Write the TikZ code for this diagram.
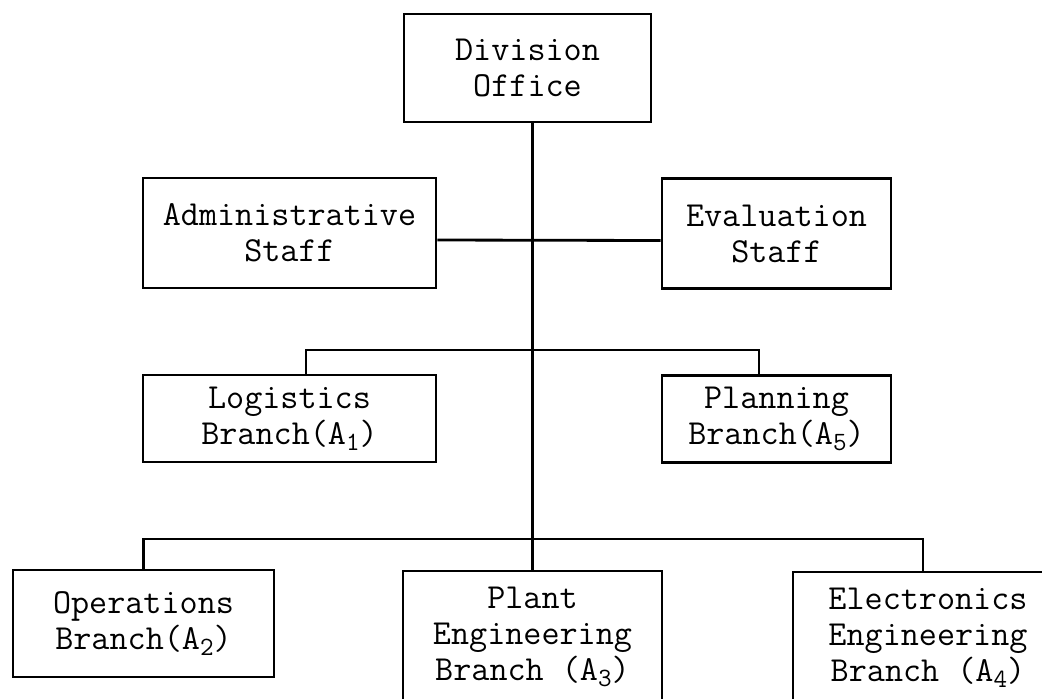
\documentclass[tikz,border=0pt]{standalone}
\usepackage{tikz}
\usetikzlibrary{arrows,shapes}
\newcommand{\subidx}[1]{\raisebox{-.4ex}{\fontsize{15}{15}\selectfont #1}}
\tikzstyle{box} = [rectangle, draw=black, line width=1.6pt, inner sep=0pt, align=center, font=\ttfamily\fontsize{20}{20.5}\selectfont]
\tikzstyle{office} = [box, minimum width=4.94cm, minimum height=2.16cm]
\tikzstyle{staff} = [box, minimum height=2.2cm]
\tikzstyle{branch} = [box, minimum height=1.74cm]
\tikzstyle{lowbranch} = [box, minimum height=2.64cm]
\tikzstyle{line} = [line width=1.6pt]

\begin{document}
\begin{tikzpicture}[x=0.02cm,y=-0.02cm]
\useasboundingbox (0,0) rectangle (1042,698);
\clip (0,0) rectangle (1042,698);

\node (div) [office] at (527.5,68) {Division\\Office};
\node (adm) [staff, minimum width=5.86cm] at (289.5,233) {Administrative\\Staff};
\node (eva) [staff, minimum width=4.58cm] at (776.5,233.5) {Evaluation\\Staff};
\node (log) [branch, minimum width=5.86cm] at (289.5,418.5) {Logistics\\Branch(A\subidx{1})};
\node (pla) [branch, minimum width=4.58cm] at (776.5,419) {Planning\\Branch(A\subidx{5})};
\node (ope) [box, minimum width=5.22cm, minimum height=2.14cm] at (143.5,623.5) {Operations\\Branch(A\subidx{2})};
\node (plt) [lowbranch, minimum width=5.18cm] at (532.5,637) {Plant\\Engineering\\Branch (A\subidx{3})};
\node (ele) [lowbranch, minimum width=5.4cm] at (928,638) {Electronics\\Engineering\\Branch (A\subidx{4})};

\coordinate (midbr) at (533,350);
\coordinate (lowbr) at (533,539);

% trunk and staff line
\draw [line] (plt.north) -- (plt.north |- div.south);
\draw [line] ([yshift=-0.14cm]adm.east) -- ([yshift=-0.14cm]eva.west);

% branch lines
\draw [line] ([xshift=0.33cm]log.north) |- (midbr) -| ([xshift=-0.35cm]pla.north);
\draw [line] (ope.north) |- (lowbr) -| ([xshift=-0.1cm]ele.north);
\end{tikzpicture}
\end{document}
